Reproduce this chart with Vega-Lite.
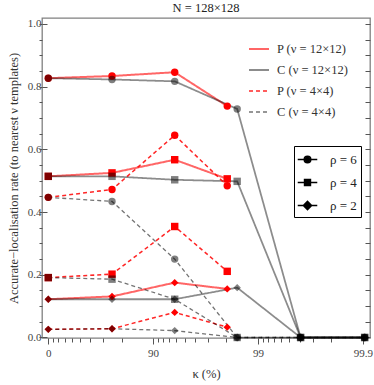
{
  "$schema": "https://vega.github.io/schema/vega-lite/v6.json",
  "width": 328,
  "height": 320,
  "autosize": {"type": "none"},
  "padding": {"left": 42, "top": 18, "right": 4, "bottom": 47},
  "title": {"text": "N = 128×128", "font": "Liberation Serif", "fontSize": 12.5, "fontWeight": "normal", "color": "#222", "anchor": "middle", "offset": 3},
  "config": {
    "view": {"stroke": "#808080", "strokeWidth": 1.3},
    "axis": {"labelFont": "Liberation Serif", "labelFontSize": 11, "labelColor": "#444", "titleFont": "Liberation Serif", "titleFontWeight": "normal", "titleFontSize": 12.5, "titleColor": "#333", "grid": false, "domain": false, "tickColor": "#555"},
    "legend": {"labelFont": "Liberation Serif"}
  },
  "data": {"values": [
    {"s": "P (ν = 12×12)", "r": "ρ = 6", "u": 0, "v": 0.827},
    {"s": "P (ν = 12×12)", "r": "ρ = 6", "u": 0.608, "v": 0.834},
    {"s": "P (ν = 12×12)", "r": "ρ = 6", "u": 1.206, "v": 0.846},
    {"s": "P (ν = 12×12)", "r": "ρ = 6", "u": 1.707, "v": 0.738},
    {"s": "P (ν = 12×12)", "r": "ρ = 4", "u": 0, "v": 0.514},
    {"s": "P (ν = 12×12)", "r": "ρ = 4", "u": 0.608, "v": 0.525},
    {"s": "P (ν = 12×12)", "r": "ρ = 4", "u": 1.206, "v": 0.567},
    {"s": "P (ν = 12×12)", "r": "ρ = 4", "u": 1.707, "v": 0.506},
    {"s": "P (ν = 12×12)", "r": "ρ = 2", "u": 0, "v": 0.122},
    {"s": "P (ν = 12×12)", "r": "ρ = 2", "u": 0.608, "v": 0.131},
    {"s": "P (ν = 12×12)", "r": "ρ = 2", "u": 1.206, "v": 0.175},
    {"s": "P (ν = 12×12)", "r": "ρ = 2", "u": 1.707, "v": 0.155},
    {"s": "C (ν = 12×12)", "r": "ρ = 6", "u": 0, "v": 0.827},
    {"s": "C (ν = 12×12)", "r": "ρ = 6", "u": 0.608, "v": 0.823},
    {"s": "C (ν = 12×12)", "r": "ρ = 6", "u": 1.206, "v": 0.817},
    {"s": "C (ν = 12×12)", "r": "ρ = 6", "u": 1.802, "v": 0.729},
    {"s": "C (ν = 12×12)", "r": "ρ = 6", "u": 2.407, "v": 0},
    {"s": "C (ν = 12×12)", "r": "ρ = 6", "u": 3.018, "v": 0},
    {"s": "C (ν = 12×12)", "r": "ρ = 4", "u": 0, "v": 0.514},
    {"s": "C (ν = 12×12)", "r": "ρ = 4", "u": 0.608, "v": 0.514},
    {"s": "C (ν = 12×12)", "r": "ρ = 4", "u": 1.206, "v": 0.503},
    {"s": "C (ν = 12×12)", "r": "ρ = 4", "u": 1.802, "v": 0.498},
    {"s": "C (ν = 12×12)", "r": "ρ = 4", "u": 2.407, "v": 0},
    {"s": "C (ν = 12×12)", "r": "ρ = 4", "u": 3.018, "v": 0},
    {"s": "C (ν = 12×12)", "r": "ρ = 2", "u": 0, "v": 0.122},
    {"s": "C (ν = 12×12)", "r": "ρ = 2", "u": 0.608, "v": 0.122},
    {"s": "C (ν = 12×12)", "r": "ρ = 2", "u": 1.206, "v": 0.122},
    {"s": "C (ν = 12×12)", "r": "ρ = 2", "u": 1.802, "v": 0.159},
    {"s": "C (ν = 12×12)", "r": "ρ = 2", "u": 2.407, "v": 0},
    {"s": "C (ν = 12×12)", "r": "ρ = 2", "u": 3.018, "v": 0},
    {"s": "P (ν = 4×4)", "r": "ρ = 6", "u": 0, "v": 0.447},
    {"s": "P (ν = 4×4)", "r": "ρ = 6", "u": 0.608, "v": 0.472},
    {"s": "P (ν = 4×4)", "r": "ρ = 6", "u": 1.206, "v": 0.645},
    {"s": "P (ν = 4×4)", "r": "ρ = 6", "u": 1.707, "v": 0.484},
    {"s": "P (ν = 4×4)", "r": "ρ = 4", "u": 0, "v": 0.191},
    {"s": "P (ν = 4×4)", "r": "ρ = 4", "u": 0.608, "v": 0.202},
    {"s": "P (ν = 4×4)", "r": "ρ = 4", "u": 1.206, "v": 0.354},
    {"s": "P (ν = 4×4)", "r": "ρ = 4", "u": 1.707, "v": 0.211},
    {"s": "P (ν = 4×4)", "r": "ρ = 2", "u": 0, "v": 0.026},
    {"s": "P (ν = 4×4)", "r": "ρ = 2", "u": 0.608, "v": 0.028},
    {"s": "P (ν = 4×4)", "r": "ρ = 2", "u": 1.206, "v": 0.080},
    {"s": "P (ν = 4×4)", "r": "ρ = 2", "u": 1.707, "v": 0.033},
    {"s": "C (ν = 4×4)", "r": "ρ = 6", "u": 0, "v": 0.447},
    {"s": "C (ν = 4×4)", "r": "ρ = 6", "u": 0.608, "v": 0.434},
    {"s": "C (ν = 4×4)", "r": "ρ = 6", "u": 1.206, "v": 0.250},
    {"s": "C (ν = 4×4)", "r": "ρ = 6", "u": 1.802, "v": 0},
    {"s": "C (ν = 4×4)", "r": "ρ = 6", "u": 2.407, "v": 0},
    {"s": "C (ν = 4×4)", "r": "ρ = 6", "u": 3.018, "v": 0},
    {"s": "C (ν = 4×4)", "r": "ρ = 4", "u": 0, "v": 0.191},
    {"s": "C (ν = 4×4)", "r": "ρ = 4", "u": 0.608, "v": 0.186},
    {"s": "C (ν = 4×4)", "r": "ρ = 4", "u": 1.206, "v": 0.122},
    {"s": "C (ν = 4×4)", "r": "ρ = 4", "u": 1.802, "v": 0},
    {"s": "C (ν = 4×4)", "r": "ρ = 4", "u": 2.407, "v": 0},
    {"s": "C (ν = 4×4)", "r": "ρ = 4", "u": 3.018, "v": 0},
    {"s": "C (ν = 4×4)", "r": "ρ = 2", "u": 0, "v": 0.026},
    {"s": "C (ν = 4×4)", "r": "ρ = 2", "u": 0.608, "v": 0.028},
    {"s": "C (ν = 4×4)", "r": "ρ = 2", "u": 1.206, "v": 0.022},
    {"s": "C (ν = 4×4)", "r": "ρ = 2", "u": 1.802, "v": 0},
    {"s": "C (ν = 4×4)", "r": "ρ = 2", "u": 2.407, "v": 0},
    {"s": "C (ν = 4×4)", "r": "ρ = 2", "u": 3.018, "v": 0}
  ]},
  "layer": [
    {
      "mark": {"type": "line"},
      "encoding": {
        "x": {"field": "u", "type": "quantitative", "scale": {"domain": [-0.06, 3.069], "nice": false, "zero": false},
          "axis": {"orient": "bottom", "values": [0, 1, 2, 3], "labelExpr": "datum.value == 0 ? '0' : datum.value == 1 ? '90' : datum.value == 2 ? '99' : '99.9'", "tickSize": 6, "labelPadding": 3, "title": "κ (%)", "titlePadding": 9}},
        "y": {"field": "v", "type": "quantitative", "scale": {"domain": [-0.0016, 1.019], "nice": false, "zero": false},
          "axis": {"orient": "left", "values": [0, 0.2, 0.4, 0.6, 0.8, 1.0], "format": ".1f", "tickSize": -5, "labelPadding": 6, "title": "Accurate−localisation rate (to nearest ν templates)", "titlePadding": 7}},
        "color": {"field": "s", "type": "nominal",
          "scale": {"domain": ["P (ν = 12×12)", "C (ν = 12×12)", "P (ν = 4×4)", "C (ν = 4×4)"], "range": ["rgba(255,0,0,0.6)", "rgba(0,0,0,0.45)", "rgba(255,0,0,0.85)", "rgba(0,0,0,0.55)"]},
          "legend": {"title": null, "orient": "none", "legendX": 206, "legendY": 20, "symbolType": "stroke", "symbolSize": 400, "labelFontSize": 12.5, "labelColor": "#333", "rowPadding": 3, "labelOffset": 7, "padding": 0}},
        "strokeDash": {"field": "s", "type": "nominal",
          "scale": {"domain": ["P (ν = 12×12)", "C (ν = 12×12)", "P (ν = 4×4)", "C (ν = 4×4)"], "range": [[1, 0], [1, 0], [4, 3], [4, 3]]},
          "legend": {"title": null, "orient": "none", "legendX": 206, "legendY": 20, "symbolType": "stroke", "symbolSize": 400, "labelFontSize": 12.5, "labelColor": "#333", "rowPadding": 3, "labelOffset": 7, "padding": 0}},
        "strokeWidth": {"field": "s", "type": "nominal",
          "scale": {"domain": ["P (ν = 12×12)", "C (ν = 12×12)", "P (ν = 4×4)", "C (ν = 4×4)"], "range": [2, 1.3, 1.3, 1.1]},
          "legend": {"title": null, "orient": "none", "legendX": 206, "legendY": 20, "symbolType": "stroke", "symbolSize": 400, "labelFontSize": 12.5, "labelColor": "#333", "rowPadding": 3, "labelOffset": 7, "padding": 0}},
        "detail": {"field": "r", "type": "nominal"}
      }
    },
    {
      "mark": {"type": "point", "filled": true, "size": 55, "strokeWidth": 0, "opacity": 1},
      "encoding": {
        "x": {"field": "u", "type": "quantitative",
          "axis": {"orient": "bottom", "values": [0.0458, 0.0969, 0.1549, 0.2218, 0.301, 0.3979, 0.5229, 0.699, 1.0458, 1.0969, 1.1549, 1.2218, 1.301, 1.3979, 1.5229, 1.699, 2.0458, 2.0969, 2.1549, 2.2218, 2.301, 2.3979, 2.5229, 2.699], "labels": false, "tickSize": 4, "title": null}},
        "y": {"field": "v", "type": "quantitative",
          "axis": {"orient": "left", "values": [0, 0.05, 0.1, 0.15, 0.2, 0.25, 0.3, 0.35, 0.4, 0.45, 0.5, 0.55, 0.6, 0.65, 0.7, 0.75, 0.8, 0.85, 0.9, 0.95, 1.0], "labels": false, "tickSize": 3, "title": null}},
        "fill": {"field": "s", "type": "nominal",
          "scale": {"domain": ["P (ν = 12×12)", "C (ν = 12×12)", "P (ν = 4×4)", "C (ν = 4×4)"], "range": ["#ff0000", "rgba(0,0,0,0.5)", "#ff0000", "rgba(0,0,0,0.5)"]},
          "legend": null},
        "shape": {"field": "r", "type": "nominal",
          "scale": {"domain": ["ρ = 6", "ρ = 4", "ρ = 2"], "range": ["circle", "square", "diamond"]},
          "legend": null}
      }
    },
    {
      "mark": {"type": "point", "opacity": 0},
      "encoding": {
        "x": {"field": "u", "type": "quantitative", "axis": null},
        "y": {"field": "v", "type": "quantitative",
          "axis": {"orient": "right", "values": [0, 0.05, 0.1, 0.15, 0.2, 0.25, 0.3, 0.35, 0.4, 0.45, 0.5, 0.55, 0.6, 0.65, 0.7, 0.75, 0.8, 0.85, 0.9, 0.95, 1.0], "labels": false, "tickSize": -5, "title": null}}
      }
    },
    {
      "transform": [{"filter": "datum.u < -1"}],
      "mark": {"type": "point", "filled": false, "color": "#000", "strokeWidth": 1.3, "opacity": 1},
      "encoding": {
        "x": {"field": "u", "type": "quantitative", "axis": null},
        "y": {"field": "v", "type": "quantitative", "axis": null},
        "shape": {"field": "r", "type": "nominal",
          "scale": {"domain": ["ρ = 6", "ρ = 4", "ρ = 2"], "range": [
            "M-1.15,0H1.15M-0.4,0A0.4,0.4,0,1,0,0.4,0A0.4,0.4,0,1,0,-0.4,0M-0.26,0A0.26,0.26,0,1,0,0.26,0A0.26,0.26,0,1,0,-0.26,0M-0.12,0A0.12,0.12,0,1,0,0.12,0A0.12,0.12,0,1,0,-0.12,0",
            "M-1.15,0H1.15M-0.36,-0.36H0.36V0.36H-0.36ZM-0.22,-0.22H0.22V0.22H-0.22ZM-0.08,-0.08H0.08V0.08H-0.08Z",
            "M-1.15,0H1.15M0,-0.5L0.5,0L0,0.5L-0.5,0ZM0,-0.34L0.34,0L0,0.34L-0.34,0ZM0,-0.18L0.18,0L0,0.18L-0.18,0Z"]},
          "legend": {"title": null, "orient": "none", "legendX": 252, "legendY": 128, "symbolSize": 289, "strokeColor": "#000", "fillColor": "#fff", "padding": 4, "rowPadding": 6, "labelOffset": 13, "labelFontSize": 13, "labelColor": "#222", "symbolStrokeColor": "#000", "symbolStrokeWidth": 1.3}}
      }
    }
  ],
  "resolve": {"axis": {"x": "independent", "y": "independent"}, "scale": {"shape": "independent"}, "legend": {"shape": "independent"}}
}
